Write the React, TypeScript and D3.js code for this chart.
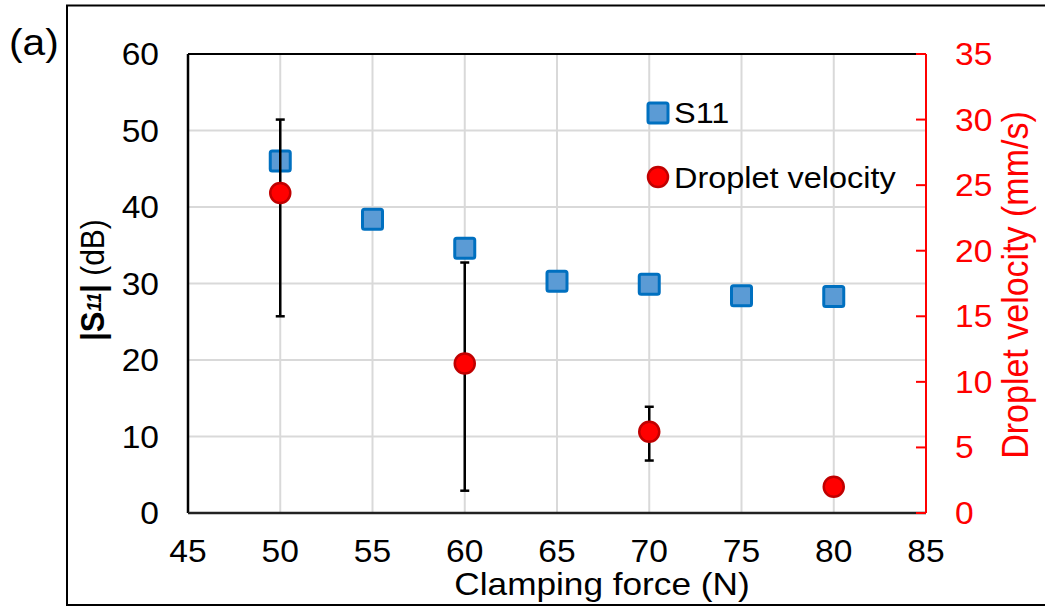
import React from 'react';
import * as d3 from 'd3';

// Clamping force (N) for the S11 series
const s11Forces = [50, 55, 60, 65, 70, 75, 80];
const s11Values = [46.0, 38.4, 34.6, 30.3, 29.9, 28.4, 28.3];

// Droplet velocity (mm/s) with asymmetric error bars
const velForces = [50, 60, 70, 80];
const velValues = [24.4, 11.4, 6.2, 2.0];
const velErrUp = [5.6, 7.7, 1.9, 0];
const velErrDown = [9.4, 9.7, 2.2, 0];

const xTicks = [45, 50, 55, 60, 65, 70, 75, 80, 85];
const leftTicks = [0, 10, 20, 30, 40, 50, 60];
const rightTicks = [0, 5, 10, 15, 20, 25, 30, 35];

const W = 1045;
const H = 608;
const FONT = '"Liberation Sans", Arial, sans-serif';
const SX = 1.1; // the reference text is a little wider than plain Arial

// text placed at (x, y), stretched horizontally
const T = ({ x, y, rot = 0, children, ...rest }: any) => (
  <text transform={`translate(${x},${y}) scale(${SX},1)${rot ? ` rotate(${rot})` : ''}`} {...rest}>
    {children}
  </text>
);

const App = () => {
  const left = 188, right = 926, top = 54, bottom = 513;

  const x = d3.scaleLinear().domain([45, 85]).range([left, right]);
  const yL = d3.scaleLinear().domain([0, 60]).range([bottom, top]);
  const yR = d3.scaleLinear().domain([0, 35]).range([bottom, top]);

  const grid = '#d9d9d9';
  const sq = 20;

  return (
    <svg width={W} height={H} style={{ position: 'absolute', left: 0, top: 0, background: '#fff' }} fontFamily={FONT}>
      {/* outer frame */}
      <rect x={67} y={5.5} width={1000} height={599.5} fill="none" stroke="#000" strokeWidth={2} />
      <T x={9} y={55} fontSize={37}>(a)</T>

      {/* gridlines */}
      {xTicks.slice(1, -1).map(t => (
        <line key={'gx' + t} x1={x(t)} x2={x(t)} y1={top} y2={bottom} stroke={grid} strokeWidth={2} />
      ))}
      {leftTicks.slice(1, -1).map(t => (
        <line key={'gy' + t} x1={left} x2={right} y1={yL(t)} y2={yL(t)} stroke={grid} strokeWidth={2} />
      ))}

      {/* plot border */}
      <line x1={left} x2={left} y1={top} y2={bottom} stroke="#000" strokeWidth={2.5} />
      <line x1={left} x2={right} y1={bottom} y2={bottom} stroke="#222" strokeWidth={2.5} />
      <line x1={left} x2={right - 10} y1={top} y2={top} stroke="#000" strokeWidth={2} />

      {/* right axis */}
      <line x1={right} x2={right} y1={top} y2={bottom} stroke="#ff0000" strokeWidth={2} />
      {rightTicks.map(t => (
        <g key={'rt' + t}>
          <line x1={right - 10} x2={right} y1={yR(t)} y2={yR(t)} stroke="#ff0000" strokeWidth={2} />
          <T x={955} y={yR(t) + 11} fontSize={30.5} fill="#ff0000">{t}</T>
        </g>
      ))}

      {/* left tick labels */}
      {leftTicks.map(t => (
        <T key={'lt' + t} x={159} y={yL(t) + 11} fontSize={30.5} textAnchor="end">{t}</T>
      ))}

      {/* x tick labels */}
      {xTicks.map(t => (
        <T key={'xt' + t} x={x(t)} y={562} fontSize={30.5} textAnchor="middle">{t}</T>
      ))}

      {/* axis titles */}
      <T x={602} y={595} fontSize={32} textAnchor="middle">Clamping force (N)</T>
      <T x={104} y={280} rot={-90} textAnchor="middle">
        <tspan fontSize={31} fontWeight="bold">|S</tspan>
        <tspan fontSize={18} fontWeight="bold" fontStyle="italic" dy={-3}>11</tspan>
        <tspan fontSize={31} fontWeight="bold" dy={3}>|</tspan>
        <tspan fontSize={30}> (dB)</tspan>
      </T>
      <T x={1028} y={285} rot={-90} textAnchor="middle" fontSize={34} fill="#ff0000">
        Droplet velocity (mm/s)
      </T>

      {/* S11 markers */}
      {s11Forces.map((f, i) => (
        <rect key={'s' + f} x={x(f) - sq / 2} y={yL(s11Values[i]) - sq / 2} width={sq} height={sq}
          rx={2} fill="#5b9bd5" stroke="#0070c0" strokeWidth={3} />
      ))}

      {/* error bars */}
      {velForces.map((f, i) => {
        if (!velErrUp[i] && !velErrDown[i]) return null;
        const y1 = yR(velValues[i] + velErrUp[i]);
        const y2 = yR(velValues[i] - velErrDown[i]);
        return (
          <g key={'e' + f} stroke="#000" strokeWidth={2.5}>
            <line x1={x(f)} x2={x(f)} y1={y1} y2={y2} />
            <line x1={x(f) - 4.5} x2={x(f) + 4.5} y1={y1} y2={y1} />
            <line x1={x(f) - 4.5} x2={x(f) + 4.5} y1={y2} y2={y2} />
          </g>
        );
      })}

      {/* velocity markers */}
      {velForces.map((f, i) => (
        <circle key={'v' + f} cx={x(f)} cy={yR(velValues[i])} r={10} fill="#ff0000" stroke="#c00000" strokeWidth={2.5} />
      ))}

      {/* legend */}
      <rect x={658 - sq / 2} y={113 - sq / 2} width={sq} height={sq} rx={2} fill="#5b9bd5" stroke="#0070c0" strokeWidth={3} />
      <T x={674} y={123} fontSize={29.5}>S11</T>
      <circle cx={658} cy={177} r={10} fill="#ff0000" stroke="#c00000" strokeWidth={2.5} />
      <T x={674} y={188} fontSize={29.5}>Droplet velocity</T>
    </svg>
  );
};

export default App;
